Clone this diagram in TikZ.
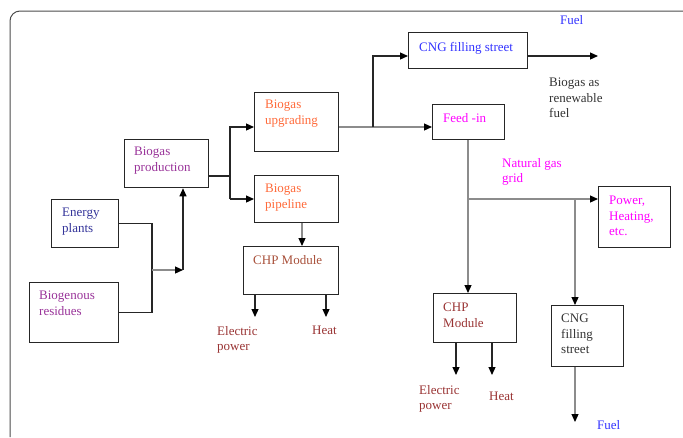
\documentclass[tikz,border=0pt]{standalone}
\usepackage{fontspec}
\setmainfont{Liberation Serif}
\usetikzlibrary{arrows.meta,positioning}

\definecolor{cPurple}{HTML}{993399}
\definecolor{cNavy}{HTML}{333399}
\definecolor{cOrange}{HTML}{FF6A3A}
\definecolor{cRust}{HTML}{A8503A}
\definecolor{cBrown}{HTML}{993333}
\definecolor{cBlue}{HTML}{3333FF}
\definecolor{cMagenta}{HTML}{FF00FF}
\definecolor{cDark}{HTML}{333333}

\tikzset{
  blk/.style={draw=black!85, line width=1.3pt, inner sep=0pt, anchor=north west},
  txt/.style={inner sep=0pt, anchor=north west, align=left, font=\fontsize{13}{15.5}\selectfont},
  bline/.style={draw=black!85, line width=1.2pt},
  gline/.style={draw=black!45, line width=1.2pt},
  tip/.style={-{Triangle[length=8pt,width=7pt,color=black]}}
}

\begin{document}
\begin{tikzpicture}[x=1pt, y=-1pt, line cap=butt, line join=miter]
\useasboundingbox (0,0) rectangle (683,437);

% frame
\draw[black!70, line width=1pt, rounded corners=10pt] (10,437) |- (683,11);

% boxes
\node[blk, minimum width=67pt, minimum height=48pt] (ep) at (51,199) {};
\node[blk, minimum width=89pt, minimum height=60pt] (br) at (29,282) {};
\node[blk, minimum width=84pt, minimum height=48pt] (prod) at (124,139) {};
\node[blk, minimum width=84pt, minimum height=59pt] (up) at (254,92) {};
\node[blk, minimum width=84pt, minimum height=47pt] (pl) at (254,175) {};
\node[blk, minimum width=95pt, minimum height=48pt] (chpA) at (243,246) {};
\node[blk, minimum width=119pt, minimum height=36pt] (cng) at (408,32) {};
\node[blk, minimum width=72pt, minimum height=35pt] (fd) at (432,104) {};
\node[blk, minimum width=72pt, minimum height=61pt] (pw) at (598,186) {};
\node[blk, minimum width=83pt, minimum height=49pt] (chpB) at (433,293) {};
\node[blk, minimum width=72pt, minimum height=61pt] (cngB) at (551,305) {};

% box texts
\node[txt, text=cNavy] (tep) at ([shift={(11,9)}]ep.north west) {Energy\\plants};
\node[txt, text=cPurple] (tbr) at ([shift={(10,9)}]br.north west) {Biogenous\\residues};
\node[txt, text=cPurple] (tprod) at ([shift={(10,8)}]prod.north west) {Biogas\\production};
\node[txt, text=cOrange] (tup) at ([shift={(11,8)}]up.north west) {Biogas\\upgrading};
\node[txt, text=cOrange] (tpl) at ([shift={(11,9)}]pl.north west) {Biogas\\pipeline};
\node[txt, text=cRust] (tchpA) at ([shift={(10,9)}]chpA.north west) {CHP Module};
\node[txt, text=cBlue] (tcng) at ([shift={(11,10)}]cng.north west) {CNG filling street};
\node[txt, text=cMagenta] (tfd) at ([shift={(11,9)}]fd.north west) {Feed -in};
\node[txt, text=cMagenta] (tpw) at ([shift={(11,10)}]pw.north west) {Power,\\Heating,\\etc.};
\node[txt, text=cBrown] (tchpB) at ([shift={(10,10)}]chpB.north west) {CHP\\Module};
\node[txt, text=cDark] (tcngB) at ([shift={(10,9)}]cngB.north west) {CNG\\filling\\street};

% free labels
\node[txt, text=cBlue] (fuelT) at (560,15) {Fuel};
\node[txt, text=cDark] (renew) at (549,78) {Biogas as\\renewable\\fuel};
\node[txt, text=cMagenta] (grid) at (502,158) {Natural gas\\grid};
\node[txt, text=cBrown] (elA) at (217,326) {Electric\\power};
\node[txt, text=cBrown] (heatA) at (312,326) {Heat};
\node[txt, text=cBrown] (elB) at (419,385) {Electric\\power};
\node[txt, text=cBrown] (heatB) at (489,392) {Heat};
\node[txt, text=cBlue] (fuelB) at (597,420) {Fuel};

% junctions
\coordinate (jm) at (152,270);
\coordinate (jup) at (183,270);
\coordinate (jp) at (230,176);
\coordinate (a1) at (230,127);
\coordinate (a2) at (230,199);
\coordinate (c1) at (302,0);
\coordinate (o1) at (255,317);
\coordinate (o2) at (326,317);
\coordinate (jf) at (373,127);
\coordinate (jc) at (373,56);
\coordinate (jfu) at (598,56);
\coordinate (jg) at (468,199);
\coordinate (jc2) at (575,199);
\coordinate (jfb) at (575,422);
\coordinate (o3) at (456,375);
\coordinate (o4) at (492,375);

% connectors
\draw[bline] (ep.east) -| (jm) |- (br.east);
\draw[gline, tip] (jm) -- (jup);
\draw[bline, tip] (jup) -- (jup |- prod.south);
\draw[bline] (prod.east |- jp) -- (jp);
\draw[bline, tip] (a2) |- (a1) -- (up.west |- a1);
\draw[bline, tip] (a2) -- (pl.west |- a2);
\draw[gline, tip] (pl.south -| c1) -- (chpA.north -| c1);
\draw[bline, tip] (chpA.south -| o1) -- (o1);
\draw[bline, tip] (chpA.south -| o2) -- (o2);
\draw[gline, tip] (up.east |- jf) -- (fd.west |- jf);
\draw[bline, tip] (jf) -- (jc) -- (cng.west |- jc);
\draw[bline, tip] (cng.east |- jfu) -- (jfu);
\draw[gline, tip] (fd.south -| jg) -- (chpB.north -| jg);
\draw[gline, tip] (jg) -- (pw.west |- jg);
\draw[gline, tip] (jc2) -- (cngB.north -| jc2);
\draw[gline, tip] (cngB.south -| jc2) -- (jfb);
\draw[bline, tip] (chpB.south -| o3) -- (o3);
\draw[bline, tip] (chpB.south -| o4) -- (o4);
\end{tikzpicture}
\end{document}
